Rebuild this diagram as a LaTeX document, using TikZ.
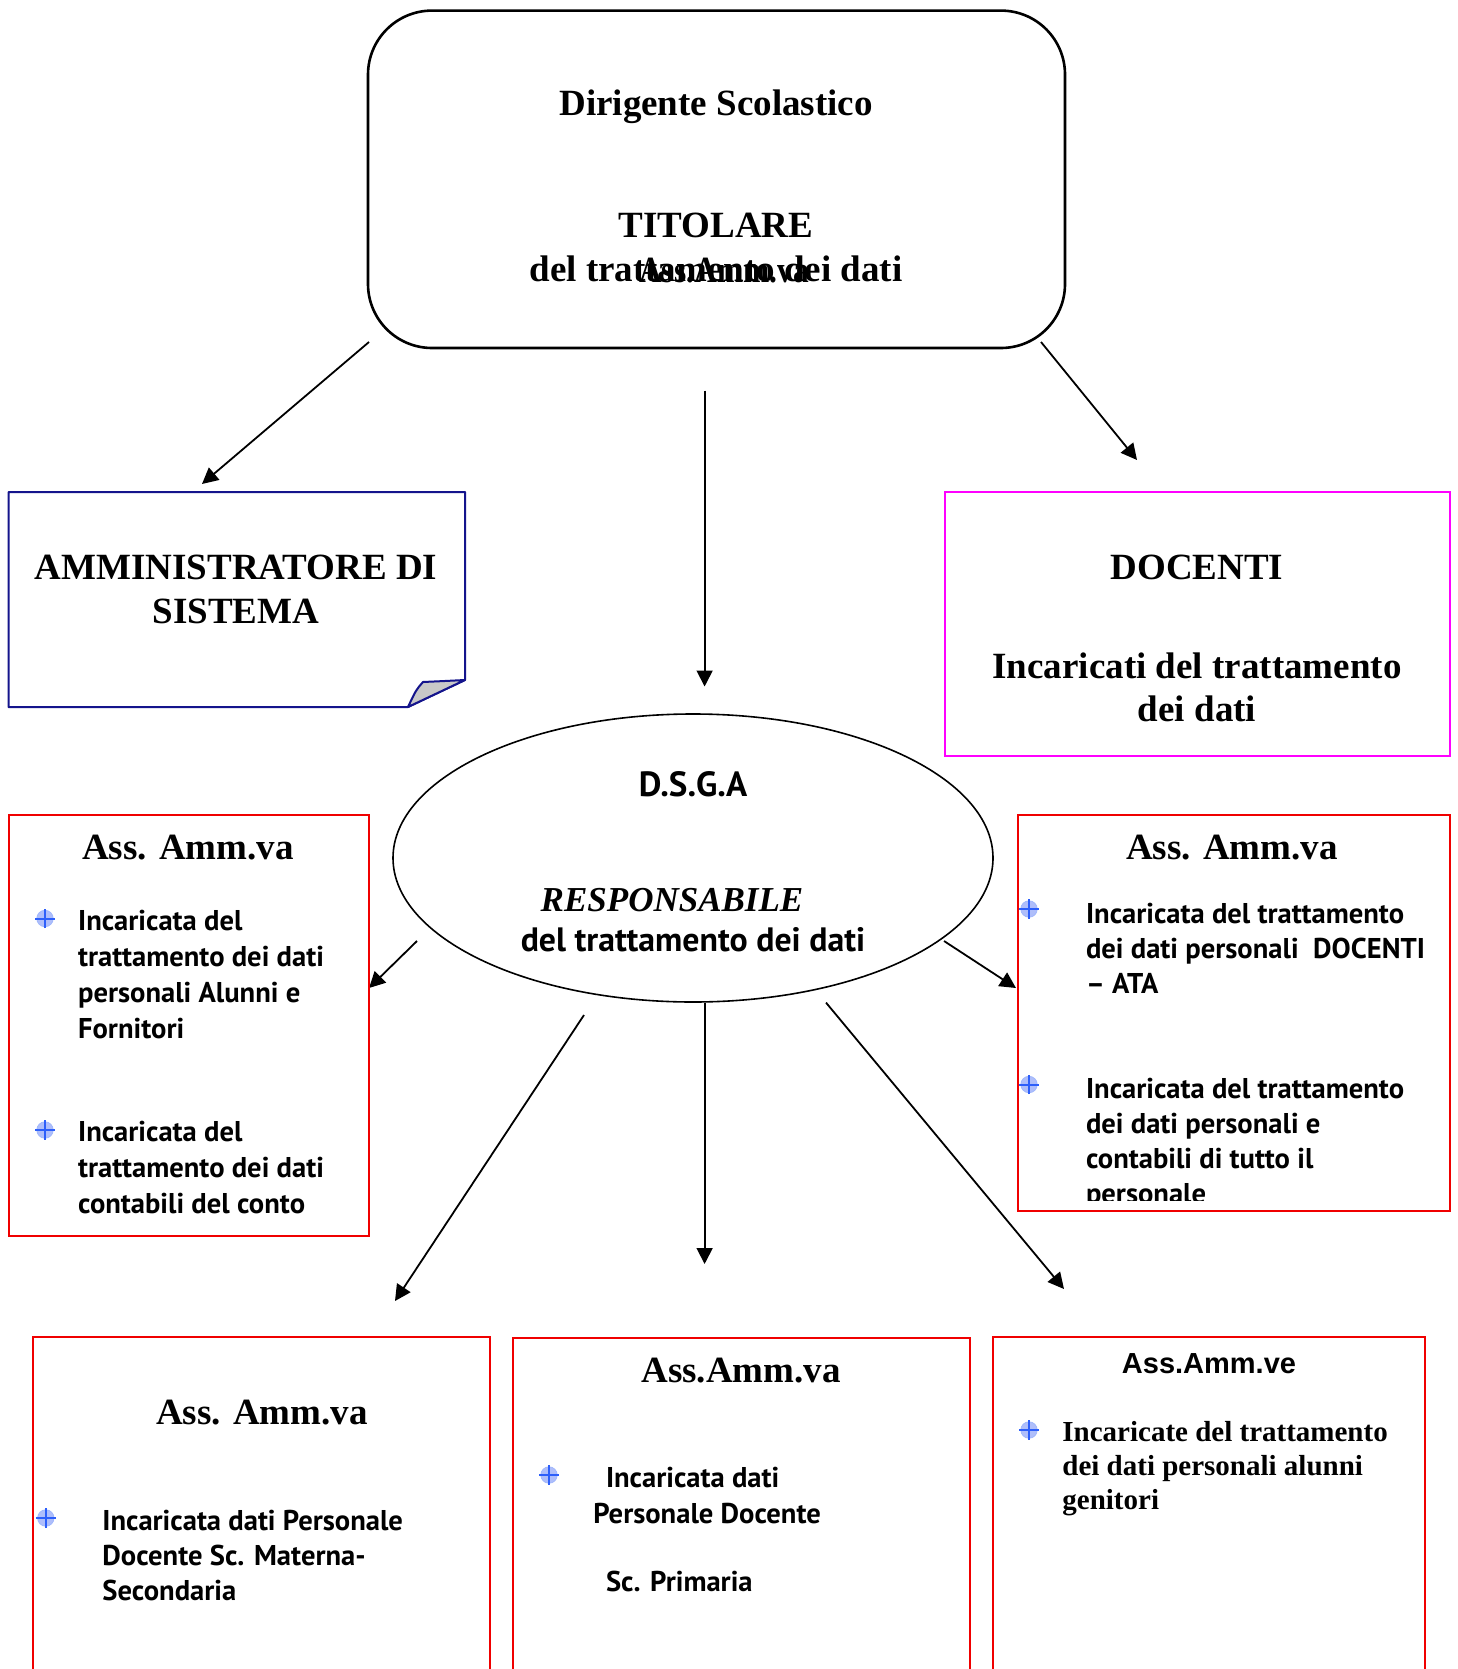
\documentclass[tikz,border=0pt]{standalone}
\usepackage{fontspec}
\usepackage{graphicx}
\setmainfont{Liberation Serif}
\newfontfamily\nsans{PT Sans}
\newfontfamily\arialf{Liberation Sans}
\usetikzlibrary{arrows.meta,shapes.geometric}
\definecolor{navy}{RGB}{20,20,140}
\definecolor{redbox}{RGB}{240,0,0}
\definecolor{magbox}{RGB}{255,0,255}
\definecolor{bulletblue}{RGB}{45,95,250}
\definecolor{bulletfill}{RGB}{175,190,250}
\definecolor{foldgray}{RGB}{200,200,200}
\tikzset{
 conn/.style={line width=0.9pt, -{Triangle[length=8pt,width=8pt]}},
 redrect/.style={draw=redbox, line width=1pt, inner sep=0, outer sep=0},
 head/.style={font=\fontsize{18.5}{22.3}\selectfont\bfseries, inner sep=0, align=center},
 bodytxt/.style={font=\nsans\bfseries\fontsize{14.3}{18.1}\selectfont, inner sep=0, align=left, anchor=west},
 bodytxtr/.style={font=\nsans\bfseries\fontsize{14.3}{17.5}\selectfont, inner sep=0, align=left, anchor=west},
 bullet/.pic={
   \fill[bulletfill] (0,0) circle (4.1pt);
   \draw[bulletblue!45, line width=0.4pt] (0,0) circle (4.1pt);
   \draw[bulletblue, line width=1pt] (-5pt,0) -- (5pt,0) (0,-4.8pt) -- (0,4.8pt);
 }
}
\begin{document}
\begin{tikzpicture}[x=0.5pt,y=-0.5pt]
\useasboundingbox (0,0) rectangle (1457,1669);
\clip (0,0) rectangle (1457,1669);
\fill[white] (0,0) rectangle (1457,1669);

% ---------- top box ----------
\node[draw, line width=1.3pt, rounded corners=32pt, minimum width=348.5pt, minimum height=168.7pt, inner sep=0, outer sep=0] (ds) at (716.5,179.3) {};
\node[head] (dir) at (716,107) {Dirigente Scolastico};
\node[head] (tit) at (716,225) {TITOLARE};
\node[head] (tdat) at (716,269) {del trattamento dei dati};
\node[head] (ovl) at (724,271) {\scalebox{0.85}[1]{Ass.Amm.va}};

% ---------- arrows from top ----------
\coordinate (a1s) at (369,342);  \coordinate (a1e) at (202,484);
\coordinate (a2s) at (704.6,390.6); \coordinate (a2e) at (704.6,686.5);
\coordinate (a3s) at (1041,342); \coordinate (a3e) at (1137,460);
\draw[conn] (a1s) -- (a1e);
\draw[conn] (a2s) -- (a2e);
\draw[conn] (a3s) -- (a3e);

% ---------- amministratore (folded corner) ----------
\node[inner sep=0, minimum width=228.25pt, minimum height=107.5pt] (admbox) at (236.75,599.5) {};
\draw[navy, line width=1pt, line join=round] (8.5,492) -- (465,492) -- (465,680) -- (408,707) -- (8.5,707) -- cycle;
\filldraw[fill=foldgray, draw=navy, line width=1pt, line join=round] (465,680) .. controls (445,681) .. (423,682) .. controls (416,690) .. (408,707) -- cycle;
\node[head] (adm) at (236,589.5) {AMMINISTRATORE DI\\SISTEMA};

% ---------- docenti ----------
\node[draw=magbox, line width=1pt, minimum width=252.5pt, minimum height=132pt, inner sep=0, outer sep=0] (doc) at (1197.5,624) {};
\node[head] (doct) at (1197,567) {DOCENTI};
\node[head] (doc1) at (1197,666) {Incaricati del trattamento};
\node[head] (doc2) at (1197,709) {dei dati};

% ---------- DSGA ellipse ----------
\node[draw, ellipse, line width=0.8pt, minimum width=300pt, minimum height=144pt, inner sep=0] (dsga) at (693,858) {};
\node[font=\nsans\bfseries\fontsize{17.5}{20}\selectfont, inner sep=0] (dsgat) at (693,784) {D.S.G.A};
\node[font=\fontsize{17.5}{20}\selectfont\bfseries\itshape, inner sep=0] (resp) at (672,900) {RESPONSABILE};
\node[font=\nsans\bfseries\fontsize{16.9}{20}\selectfont, inner sep=0] (rdat) at (693,940) {del trattamento dei dati};

% ---------- arrows from ellipse ----------
\coordinate (b1s) at (417,941);   \coordinate (b1e) at (369,988);
\coordinate (b2s) at (944,941);   \coordinate (b2e) at (1016,988);
\coordinate (b3s) at (584,1015);  \coordinate (b3e) at (395,1301);
\coordinate (b4s) at (704.6,1002.6); \coordinate (b4e) at (704.6,1264);
\coordinate (b5s) at (826,1002.6); \coordinate (b5e) at (1064,1289);
\draw[conn] (b1s) -- (b1e);
\draw[conn] (b2s) -- (b2e);
\draw[conn] (b3s) -- (b3e);
\draw[conn] (b4s) -- (b4e);
\draw[conn] (b5s) -- (b5e);

% ---------- left box ----------
\node[redrect, minimum width=180.25pt, minimum height=210.5pt] (lbox) at (188.75,1025.5) {};
\node[head] (lt) at (188,848) {Ass. Amm.va};
\pic at (45,918.5) {bullet};
\pic at (45,1130) {bullet};
\node[bodytxt] (lp1) at (77.7,974.5) {Incaricata del\\trattamento dei dati\\personali Alunni e\\Fornitori};
\node[bodytxt] (lp2) at (77.7,1167.5) {Incaricata del\\trattamento dei dati\\contabili del conto};

% ---------- right box ----------
\node[redrect, minimum width=216.25pt, minimum height=198pt] (rbox) at (1233.75,1013) {};
\node[head] (rt) at (1232,848) {Ass. Amm.va};
\pic at (1029,909) {bullet};
\pic at (1029,1084.5) {bullet};
\node[bodytxtr] (rp1) at (1085.6,948) {Incaricata del trattamento\\dei dati personali\ \ DOCENTI\\– ATA};
\begin{scope}
\clip (1017.5,815) rectangle (1450,1200);
\node[bodytxtr] (rp2) at (1085.6,1143.5) {Incaricata del trattamento\\dei dati personali e\\contabili di tutto il\\personale};
\end{scope}

% ---------- bottom left ----------
\node[redrect, minimum width=228.3pt, minimum height=181.5pt] (blbox) at (261.3,1518.5) {};
\node[head] (blt) at (262,1413) {Ass. Amm.va};
\pic at (45.8,1518) {bullet};
\node[bodytxtr] (blp) at (102,1555.5) {Incaricata dati Personale\\Docente Sc. Materna-\\Secondaria};

% ---------- bottom center ----------
\node[redrect, minimum width=228.3pt, minimum height=181pt] (bcbox) at (741.3,1519) {};
\node[head] (bct) at (741,1371) {Ass.Amm.va};
\pic at (549,1475) {bullet};
\node[bodytxtr] (bc1) at (605.6,1478) {Incaricata dati};
\node[bodytxtr] (bc2) at (593,1514) {Personale Docente};
\node[bodytxtr] (bc3) at (605.6,1581) {Sc. Primaria};

% ---------- bottom right ----------
\node[redrect, minimum width=216pt, minimum height=181.5pt] (brbox) at (1209,1518.5) {};
\node[font=\arialf\bfseries\fontsize{14.5}{17}\selectfont, inner sep=0] (brt) at (1209,1364) {Ass.Amm.ve};
\pic at (1029,1430) {bullet};
\node[font=\bfseries\fontsize{14.5}{17}\selectfont, inner sep=0, align=left, anchor=west] (brp) at (1062,1469) {Incaricate del trattamento\\dei dati personali alunni\\genitori};
\end{tikzpicture}
\end{document}
